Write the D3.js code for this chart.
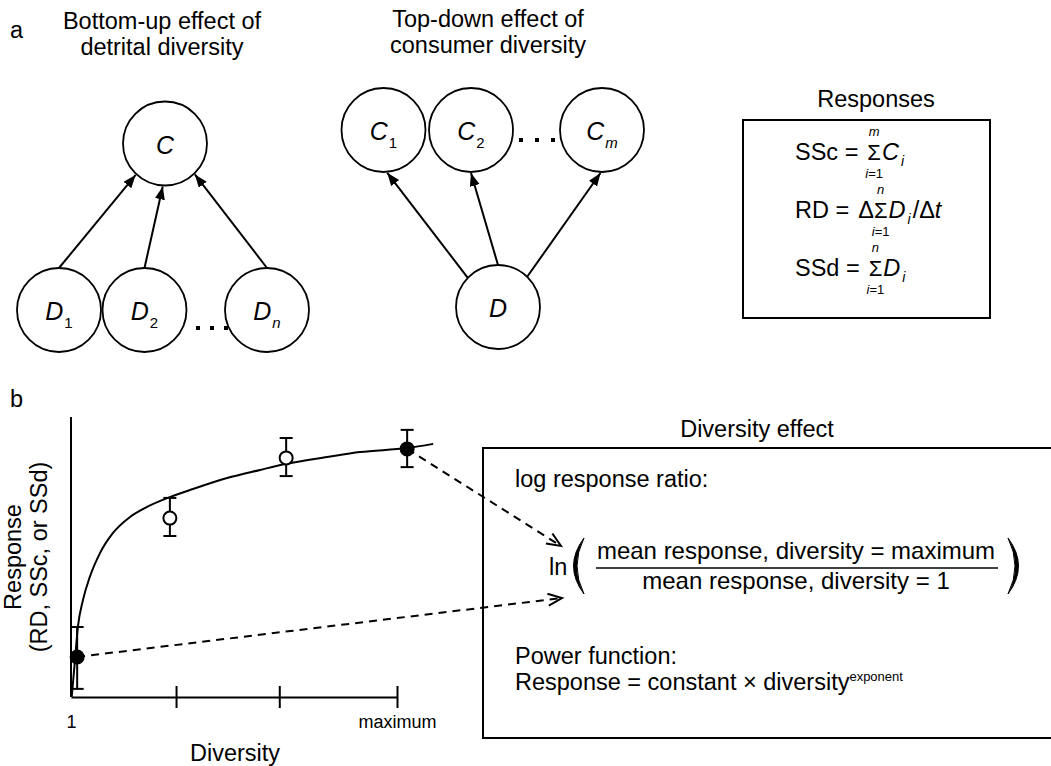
<!DOCTYPE html>
<html>
<head>
<meta charset="utf-8">
<script src="https://cdn.jsdelivr.net/npm/d3@7"></script>
<style>
  body { margin: 0; background: #fff; }
  svg text { font-family: "Liberation Sans", Arial, Helvetica, sans-serif; fill: #000; }
</style>
</head>
<body>
<svg id="fig" width="1051" height="766"></svg>
<script>
(function() {

  // ---- panel b data (response on a 0..1 scale) ----
  var pointDiversity = [1.17, 3.73, 6.94, 10.28],
      pointResponse  = [0.143, 0.639, 0.854, 0.886],
      errLow         = [0.029, 0.575, 0.789, 0.821],
      errHigh        = [0.25, 0.711, 0.925, 0.954],
      pointFilled    = [true, false, false, true];

  var curveDiversity = [1.02, 1.11, 1.19, 1.33, 1.52, 1.80, 2.16, 2.63, 3.10, 3.73,
                        4.37, 5.31, 6.22, 6.91, 8.07, 8.98, 10.28, 11.0],
      curveResponse  = [0.0, 0.132, 0.25, 0.346, 0.429, 0.514, 0.586, 0.643, 0.679, 0.714,
                        0.743, 0.782, 0.811, 0.832, 0.857, 0.875, 0.889, 0.904];

  var tickValues = [1, 3.9, 6.75, 10],
      tickLabels = ["1", "", "", "maximum"];

  // ---- panel a: node diagrams ----
  var bottomUpNodes = [
    {cx: 165, cy: 143.5, name: "C"},
    {cx: 59,  cy: 310, name: "D", sub: "1"},
    {cx: 144.5, cy: 310, name: "D", sub: "2"},
    {cx: 267, cy: 310, name: "D", sub: "n", subIt: true}
  ];
  var topDownNodes = [
    {cx: 383.5, cy: 130, name: "C", sub: "1"},
    {cx: 471, cy: 130, name: "C", sub: "2"},
    {cx: 602, cy: 130, name: "C", sub: "m", subIt: true},
    {cx: 498, cy: 307, name: "D"}
  ];
  // [from, angle on source, to, angle on target] (degrees, svg orientation)
  var bottomUpLinks = [[1, -90, 0, 133], [2, -90, 0, 93], [3, -90, 0, 46]];
  var topDownLinks  = [[3, -136, 0, 85], [3, -90, 1, 90], [3, -46, 2, 92]];

  var radius = 42;

  var svg = d3.select("#fig");
  svg.append("rect").attr("width", 1051).attr("height", 766).attr("fill", "#fff");

  var defs = svg.append("defs");
  defs.append("marker")
      .attr("id", "solid-head")
      .attr("markerUnits", "userSpaceOnUse")
      .attr("markerWidth", 14).attr("markerHeight", 12)
      .attr("refX", 13).attr("refY", 5)
      .attr("orient", "auto")
    .append("path")
      .attr("d", "M0,0L13,5L0,10Z")
      .attr("fill", "#000");
  defs.append("marker")
      .attr("id", "open-head")
      .attr("markerUnits", "userSpaceOnUse")
      .attr("markerWidth", 18).attr("markerHeight", 16)
      .attr("refX", 15).attr("refY", 7)
      .attr("orient", "auto")
    .append("path")
      .attr("d", "M1,1L15,7L1,13")
      .attr("fill", "none")
      .attr("stroke", "#000")
      .attr("stroke-width", 2);

  function label(x, y, txt, size) {
    return svg.append("text").attr("x", x).attr("y", y)
        .style("font-size", (size || 23.5) + "px").text(txt);
  }

  label(10, 38, "a");
  label(10, 407, "b");

  function title(x, y, lines) {
    var t = svg.append("text").attr("text-anchor", "middle").style("font-size", "23.5px");
    lines.forEach(function(l, i) {
      t.append("tspan").attr("x", x).attr("y", y + i * 26).text(l);
    });
  }
  title(162, 29, ["Bottom-up effect of", "detrital diversity"]);
  title(488, 27, ["Top-down effect of", "consumer diversity"]);

  function onCircle(n, deg, extra) {
    var a = deg * Math.PI / 180, r = radius + (extra || 0);
    return [n.cx + r * Math.cos(a), n.cy + r * Math.sin(a)];
  }

  function diagram(nodes, links, dots) {
    var g = svg.append("g");
    g.selectAll("line.link")
      .data(links)
      .enter().append("line")
        .attr("class", "link")
        .attr("x1", function(d) { return onCircle(nodes[d[0]], d[1])[0]; })
        .attr("y1", function(d) { return onCircle(nodes[d[0]], d[1])[1]; })
        .attr("x2", function(d) { return onCircle(nodes[d[2]], d[3], 1)[0]; })
        .attr("y2", function(d) { return onCircle(nodes[d[2]], d[3], 1)[1]; })
        .attr("stroke", "#000")
        .attr("stroke-width", 2)
        .attr("marker-end", "url(#solid-head)");

    var node = g.selectAll("g.node")
      .data(nodes)
      .enter().append("g")
        .attr("class", "node")
        .attr("transform", function(d) { return "translate(" + d.cx + "," + d.cy + ")"; });

    node.append("circle")
        .attr("r", radius)
        .attr("fill", "none")
        .attr("stroke", "#000")
        .attr("stroke-width", 1.8);

    var t = node.append("text")
        .attr("text-anchor", "middle")
        .attr("y", 10)
        .style("font-size", "25px");
    t.append("tspan").style("font-style", "italic").text(function(d) { return d.name; });
    t.filter(function(d) { return d.sub; })
      .append("tspan")
        .attr("dx", 1)
        .attr("dy", 8)
        .style("font-size", "15px")
        .style("font-style", function(d) { return d.subIt ? "italic" : "normal"; })
        .text(function(d) { return d.sub; });

    g.selectAll("rect.dot")
      .data(dots.x)
      .enter().append("rect")
        .attr("x", function(d) { return d - 2; })
        .attr("y", dots.y - 2)
        .attr("width", 4)
        .attr("height", 4)
        .attr("fill", "#000");
  }

  diagram(bottomUpNodes, bottomUpLinks, {x: [198, 212, 226], y: 328});
  diagram(topDownNodes, topDownLinks, {x: [521, 537, 553], y: 140});

  // ---- Responses box ----
  label(876, 107, "Responses").attr("text-anchor", "middle");
  svg.append("rect")
      .attr("x", 743).attr("y", 120)
      .attr("width", 247).attr("height", 198)
      .attr("fill", "none").attr("stroke", "#000").attr("stroke-width", 2);

  function measure(txt, size, italic) {
    var t = svg.append("text")
        .style("font-size", size + "px")
        .style("font-style", italic ? "italic" : "normal")
        .text(txt);
    var w = t.node().getComputedTextLength();
    t.remove();
    return w;
  }

  // a formula is one text element, its pieces laid out left to right as tspans
  function formula(x, y, parts) {
    var cx = x,
        t = svg.append("text");
    parts.forEach(function(p) {
      var size = p.size || 23.5;
      cx += p.dx || 0;
      t.append("tspan")
          .attr("x", cx)
          .attr("y", y + (p.dy || 0))
          .style("font-size", size + "px")
          .style("font-style", p.it ? "italic" : "normal")
          .text(p.t);
      var w = measure(p.t, size, p.it);
      if (p.over) {
        t.append("tspan")
            .attr("x", cx + (w - measure(p.over, 13, true)) / 2)
            .attr("y", y - 24)
            .style("font-size", "13px").style("font-style", "italic")
            .text(p.over);
      }
      if (p.under) {
        var uw = measure("i=1", 13, false);
        t.append("tspan")
            .attr("x", cx + (w - uw) / 2)
            .attr("y", y + 18)
            .style("font-size", "13px").style("font-style", "italic")
            .text("i");
        t.append("tspan")
            .style("font-size", "13px").style("font-style", "normal")
            .text("=1");
      }
      cx += w;
    });
  }

  formula(795, 160, [
    {t: "SSc ="}, {t: "\u03a3", size: 22, over: "m", under: true, dx: 9},
    {t: "C", it: true, dx: 1}, {t: "i", it: true, size: 14, dy: 6, dx: 2}
  ]);
  formula(795, 218, [
    {t: "RD ="}, {t: "\u0394", dx: 9}, {t: "\u03a3", size: 22, over: "n", under: true},
    {t: "D", it: true, dx: 1}, {t: "i", it: true, size: 14, dy: 6, dx: 2},
    {t: "/\u0394", dx: 2}, {t: "t", it: true}
  ]);
  formula(795, 276, [
    {t: "SSd ="}, {t: "\u03a3", size: 22, over: "n", under: true, dx: 9},
    {t: "D", it: true, dx: 1}, {t: "i", it: true, size: 14, dy: 6, dx: 2}
  ]);

  // ---- panel b chart ----
  var x = d3.scaleLinear().domain([1, 10]).range([71, 397]),
      y = d3.scaleLinear().domain([0, 1]).range([697, 417]);

  var plot = svg.append("g");

  plot.append("line")
      .attr("x1", x(1)).attr("x2", x(1))
      .attr("y1", y(1)).attr("y2", y(0))
      .attr("stroke", "#000").attr("stroke-width", 2);

  var xAxis = plot.append("g")
      .attr("transform", "translate(0," + y(0) + ")")
      .call(d3.axisBottom(x)
        .tickValues(tickValues)
        .tickSizeInner(11)
        .tickSizeOuter(0)
        .tickPadding(0)
        .tickFormat(function(d, i) { return tickLabels[i]; }));
  xAxis.select(".domain").attr("stroke-width", 2);
  xAxis.selectAll(".tick line")
      .attr("y1", -11)
      .attr("stroke-width", 2)
      .attr("display", function(d, i) { return i === 0 ? "none" : null; });
  xAxis.selectAll(".tick text")
      .attr("y", 31).attr("dy", 0)
      .style("font-family", "\"Liberation Sans\", Arial, sans-serif")
      .style("font-size", "18px");

  label(235, 761, "Diversity").attr("text-anchor", "middle");

  var yl = svg.append("text")
      .attr("transform", "translate(0,557) rotate(-90)")
      .attr("text-anchor", "middle")
      .style("font-size", "23.5px");
  yl.append("tspan").attr("x", 0).attr("y", 21).text("Response");
  yl.append("tspan").attr("x", 0).attr("y", 47).text("(RD, SSc, or SSd)");

  var line = d3.line()
      .x(function(d) { return x(d[0]); })
      .y(function(d) { return y(d[1]); })
      .curve(d3.curveMonotoneX);

  plot.append("path")
      .datum(d3.zip(curveDiversity, curveResponse))
      .attr("d", line)
      .attr("fill", "none")
      .attr("stroke", "#000")
      .attr("stroke-width", 2);

  // dashed arrows from the extreme means to the ratio
  var arrowTips = [[561, 546], [562, 598]];
  plot.selectAll("line.dash")
    .data([[3, 0], [0, 1]])
    .enter().append("line")
      .attr("class", "dash")
      .attr("x1", function(d) { return x(pointDiversity[d[0]]); })
      .attr("y1", function(d) { return y(pointResponse[d[0]]); })
      .attr("x2", function(d) { return arrowTips[d[1]][0]; })
      .attr("y2", function(d) { return arrowTips[d[1]][1]; })
      .attr("stroke", "#000")
      .attr("stroke-width", 2)
      .attr("stroke-dasharray", "8,6")
      .attr("marker-end", "url(#open-head)");

  var pts = plot.selectAll("g.pt")
    .data(pointDiversity.map(function(d, i) {
      return {x: d, y: pointResponse[i], lo: errLow[i], hi: errHigh[i], filled: pointFilled[i]};
    }))
    .enter().append("g")
      .attr("class", "pt");

  pts.append("line")
      .attr("x1", function(d) { return x(d.x); })
      .attr("x2", function(d) { return x(d.x); })
      .attr("y1", function(d) { return y(d.lo); })
      .attr("y2", function(d) { return y(d.hi); })
      .attr("stroke", "#000").attr("stroke-width", 2);
  ["lo", "hi"].forEach(function(k) {
    pts.append("line")
        .attr("x1", function(d) { return x(d.x) - 6.5; })
        .attr("x2", function(d) { return x(d.x) + 6.5; })
        .attr("y1", function(d) { return y(d[k]); })
        .attr("y2", function(d) { return y(d[k]); })
        .attr("stroke", "#000").attr("stroke-width", 2);
  });
  pts.append("circle")
      .attr("cx", function(d) { return x(d.x); })
      .attr("cy", function(d) { return y(d.y); })
      .attr("r", 6.5)
      .attr("fill", function(d) { return d.filled ? "#000" : "#fff"; })
      .attr("stroke", "#000").attr("stroke-width", 2);

  // ---- Diversity effect box ----
  label(757, 437, "Diversity effect").attr("text-anchor", "middle");
  svg.append("rect")
      .attr("x", 483).attr("y", 448)
      .attr("width", 620).attr("height", 290)
      .attr("fill", "none").attr("stroke", "#000").attr("stroke-width", 2);

  label(515, 487, "log response ratio:");
  label(549, 575, "ln");
  // big parentheses as thin crescents
  svg.append("path")
      .attr("d", "M584,538Q563,566 584,594Q570,566 584,538Z")
      .attr("fill", "#000").attr("stroke", "#000").attr("stroke-width", 1);
  svg.append("path")
      .attr("d", "M1008,538Q1029,566 1008,594Q1022,566 1008,538Z")
      .attr("fill", "#000").attr("stroke", "#000").attr("stroke-width", 1);
  label(796, 559, "mean response, diversity = maximum", 24).attr("text-anchor", "middle");
  svg.append("line")
      .attr("x1", 596).attr("x2", 998)
      .attr("y1", 568).attr("y2", 568)
      .attr("stroke", "#000").attr("stroke-width", 1.5);
  label(796, 589, "mean response, diversity = 1", 24).attr("text-anchor", "middle");

  label(515, 664, "Power function:");
  var pf = label(515, 690, "Response = constant \u00d7 diversity");
  pf.append("tspan").attr("dy", -9).style("font-size", "13px").text("exponent");

})();
</script>
</body>
</html>
